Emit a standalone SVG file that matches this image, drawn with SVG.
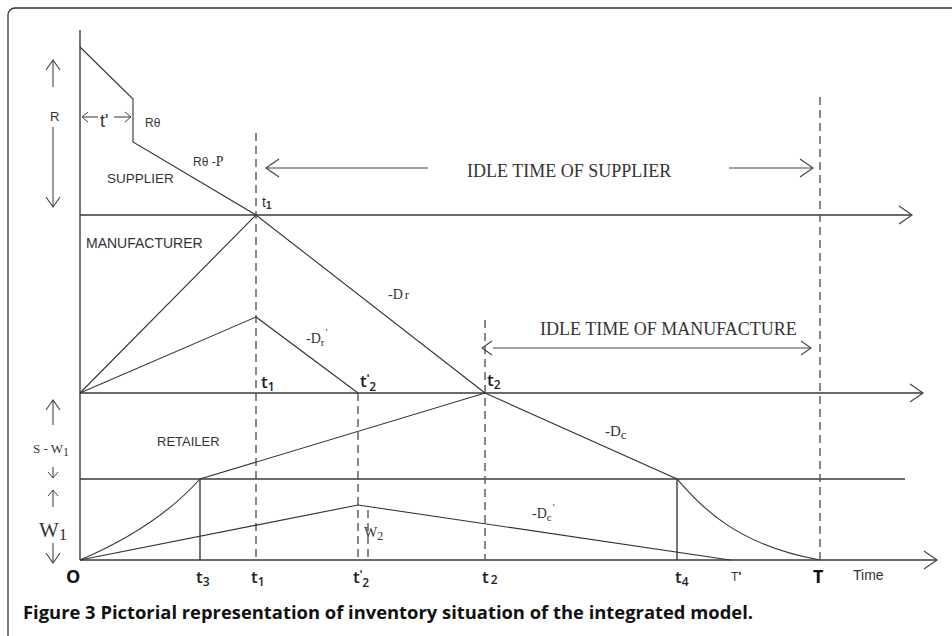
<svg xmlns="http://www.w3.org/2000/svg" width="952" height="636" viewBox="0 0 952 636">
<defs>
<marker id="big" markerUnits="userSpaceOnUse" markerWidth="16" markerHeight="22" refX="14" refY="10" orient="auto" overflow="visible">
<path d="M1,1 L14,10 L1,19" fill="none" stroke="#444" stroke-width="1.2"/>
</marker>
<marker id="sm" markerUnits="userSpaceOnUse" markerWidth="14" markerHeight="18" refX="11" refY="8" orient="auto" overflow="visible">
<path d="M1,1 L11,8 L1,15" fill="none" stroke="#444" stroke-width="1.1"/>
</marker>
<marker id="tiny" markerUnits="userSpaceOnUse" markerWidth="10" markerHeight="14" refX="7" refY="6" orient="auto" overflow="visible">
<path d="M1,1 L7,6 L1,11" fill="none" stroke="#444" stroke-width="1"/>
</marker>
<marker id="smS" markerUnits="userSpaceOnUse" markerWidth="14" markerHeight="18" refX="0" refY="8" orient="auto-start-reverse" overflow="visible">
<path d="M1,1 L11,8 L1,15" fill="none" stroke="#444" stroke-width="1.1"/>
</marker>
</defs>
<style>
.ax{stroke:#3a3a3a;stroke-width:1.4;fill:none}
.ln{stroke:#333;stroke-width:1.1;fill:none}
.ds{stroke:#555;stroke-width:1.4;stroke-dasharray:8 5;fill:none}
.ar{stroke:#444;stroke-width:1.1;fill:none}
.sans{font-family:"Liberation Sans",Arial,sans-serif;fill:#333}
.lab{font-family:"Open Sans","Liberation Sans",sans-serif;font-weight:600;fill:#222}
.ser{font-family:"Liberation Serif","Times New Roman",serif;fill:#333}
.cap{font-family:"Open Sans","Liberation Sans",sans-serif;font-weight:700;fill:#111}
</style>
<rect x="8" y="8" width="960" height="660" rx="7" fill="#fff" stroke="#333" stroke-width="1.3"/>

<g id="connectors">
<path class="ax" d="M80,30 V560"/>
<path class="ax" d="M80,215 H912" marker-end="url(#big)"/>
<path class="ax" d="M80,393 H923" marker-end="url(#big)"/>
<path class="ax" d="M80,479 H905"/>
<path class="ax" d="M80,560 H937" marker-end="url(#big)"/>
<path class="ds" d="M256,133 V560"/>
<path class="ds" d="M485,320 V560"/>
<path class="ds" d="M358,393 V560"/>
<path class="ds" d="M820,97 V560"/>
<path class="ds" d="M368,510 V558" stroke-dasharray="6 4"/>
<path class="ln" d="M80,47 L133,99 V142 L256,215"/>
<path class="ln" d="M80,393 L256,215 L485,393"/>
<path class="ln" d="M80,393 L256,317 L358,393"/>
<path class="ln" d="M80,560 C120,543 165,518 200,479 L485,393 L677,479 C700,505 735,545 820,560"/>
<path class="ax" d="M200,479 V560"/>
<path class="ax" d="M677,479 V560"/>
<path class="ln" d="M80,560 L358,505 L730,560"/>
<path class="ar" d="M428,168 H266" marker-end="url(#big)"/>
<path class="ar" d="M729,168 H813" marker-end="url(#big)"/>
<path class="ar" d="M493,348 H811" marker-start="url(#smS)" marker-end="url(#sm)"/>
<path class="ar" d="M53,87 V60" marker-end="url(#sm)"/>
<path class="ar" d="M53,127 V207" marker-end="url(#sm)"/>
<path class="ar" d="M98,117 H82" marker-end="url(#tiny)"/>
<path class="ar" d="M114,117 H131" marker-end="url(#tiny)"/>
<path class="ar" d="M53,425 V400" marker-end="url(#sm)"/>
<path class="ar" d="M53,467 V478" marker-end="url(#tiny)"/>
<path class="ar" d="M53,507 V490" marker-end="url(#tiny)"/>
<path class="ar" d="M53,543 V563" marker-end="url(#sm)"/>
</g>

<g id="supplier-labels">
<text class="sans" x="50" y="121" font-size="13">R</text>
<text class="sans" x="100" y="127" font-size="18">t'</text>
<text class="sans" x="145" y="127" font-size="12">Rθ</text>
<text class="sans" x="193" y="166" font-size="12">Rθ -<tspan class="ser" font-size="14">P</tspan></text>
<text class="sans" x="107" y="183" font-size="13.5">SUPPLIER</text>
<text class="sans" x="262" y="207" font-size="14">t<tspan font-size="10" font-weight="700" dy="2">1</tspan></text>
<text class="ser" x="467" y="177" font-size="18">IDLE TIME OF SUPPLIER</text>
</g>

<g id="manufacturer-labels">
<text class="sans" x="86" y="248" font-size="14">MANUFACTURER</text>
<text class="ser" x="388" y="299" font-size="14">-D<tspan font-size="13" dx="2">r</tspan></text>
<text class="ser" x="306" y="343" font-size="14">-D<tspan font-size="11" dy="3">r</tspan><tspan font-size="10" dx="1" dy="-10">'</tspan></text>
<text class="ser" x="540" y="335" font-size="18">IDLE TIME OF MANUFACTURE</text>
<text class="lab" x="261" y="388" font-size="17">t<tspan font-size="12" dy="3">1</tspan></text>
<text class="lab" x="360" y="387" font-size="17">t<tspan font-size="11" dy="-5">ʹ</tspan><tspan font-size="12" dy="9">2</tspan></text>
<text class="lab" x="487" y="386" font-size="17">t<tspan font-size="12" dy="3">2</tspan></text>
</g>

<g id="retailer-labels">
<text class="sans" x="157" y="446" font-size="13">RETAILER</text>
<text class="ser" x="605" y="436" font-size="15">-D<tspan font-size="13" dy="3">c</tspan></text>
<text class="ser" x="532" y="518" font-size="14">-D<tspan font-size="11" dy="3">c</tspan><tspan font-size="10" dx="1" dy="-10">'</tspan></text>
<text class="ser" x="364" y="537" font-size="14" fill="#666">W<tspan font-size="12" dy="3">2</tspan></text>
<text class="ser" x="33" y="453" font-size="13">S - W<tspan font-size="12" dy="3">1</tspan></text>
<text class="ser" x="39" y="537" font-size="21">W<tspan font-size="17" dy="3">1</tspan></text>
</g>

<g id="time-axis-labels">
<text class="cap" x="66" y="583" font-size="18">O</text>
<text class="lab" x="196" y="583" font-size="17">t<tspan font-size="12" dy="3">3</tspan></text>
<text class="lab" x="251" y="583" font-size="17">t<tspan font-size="12" dy="3">1</tspan></text>
<text class="lab" x="353" y="583" font-size="17">t<tspan font-size="11" dy="-5">ʹ</tspan><tspan font-size="12" dy="9">2</tspan></text>
<text class="lab" x="482" y="583" font-size="17">t<tspan font-size="12" dy="1" dx="2">2</tspan></text>
<text class="lab" x="675" y="583" font-size="17">t<tspan font-size="12" dy="3">4</tspan></text>
<text class="sans" x="731" y="581" font-size="12">T<tspan font-size="13" font-weight="700">ʹ</tspan></text>
<text class="cap" x="813" y="583" font-size="18">T</text>
<text class="sans" x="853" y="580" font-size="14">Time</text>
</g>

<text class="cap" x="23" y="619" font-size="18" textLength="730" lengthAdjust="spacingAndGlyphs">Figure 3 Pictorial representation of inventory situation of the integrated model.</text>
</svg>
